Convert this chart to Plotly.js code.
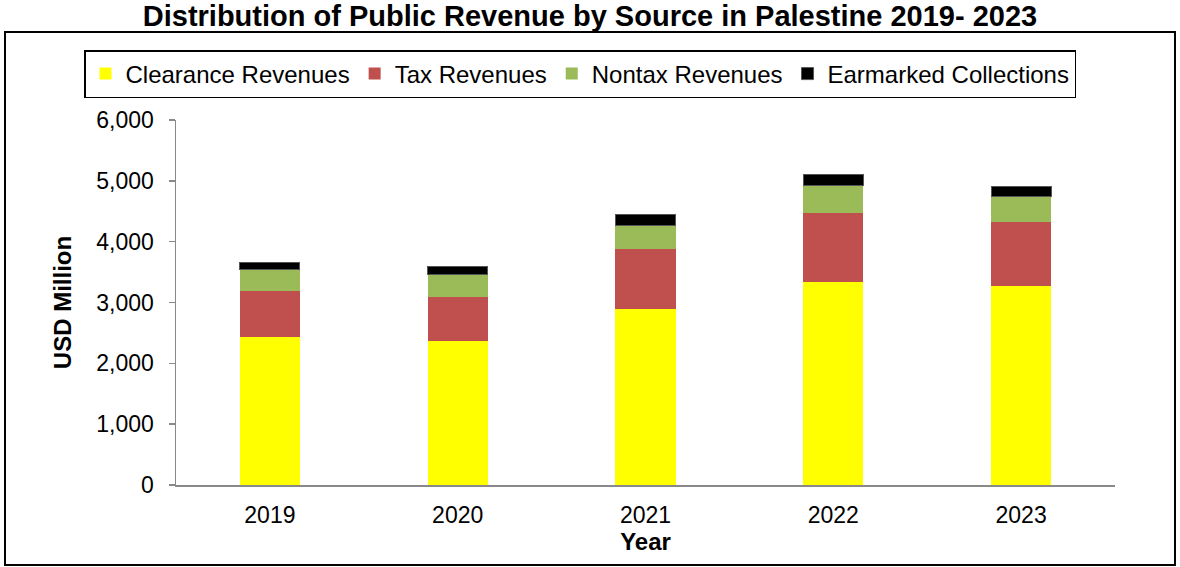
<!DOCTYPE html>
<html>
<head>
<meta charset="utf-8">
<script src="https://cdn.plot.ly/plotly-3.0.1.min.js"></script>
<style>html,body{margin:0;padding:0;background:#fff;}#chart{width:1180px;height:567px;}</style>
</head>
<body>
<div id="chart"></div>
<script>
const years = ["2019", "2020", "2021", "2022", "2023"];
const clearanceRevenues = [2440, 2375, 2895, 3340, 3270];
const taxRevenues = [755, 720, 985, 1135, 1055];
const nontaxRevenues = [340, 370, 390, 445, 415];
const earmarkedCollections = [120, 130, 180, 190, 160];

const seriesNames = ["Clearance Revenues", "Tax Revenues", "Nontax Revenues", "Earmarked Collections"];
const seriesValues = [clearanceRevenues, taxRevenues, nontaxRevenues, earmarkedCollections];
const seriesColors = ["#FFFF00", "#C0504D", "#9BBB59", "#000000"];

const traces = seriesNames.map((name, i) => ({
  type: "bar",
  name: name,
  x: years,
  y: seriesValues[i],
  marker: {color: seriesColors[i], line: {width: i === 3 ? 1 : 0, color: "#555"}},
  hoverinfo: "x+y+name"
}));

const L = 176, R = 65, T = 120, B = 82;
const W = 1180 - L - R, H = 567 - T - B;
const px = v => (v - L) / W;
const py = v => (567 - B - v) / H;

const layout = {
  width: 1180, height: 567,
  margin: {l: L, r: R, t: T, b: B, pad: 0, autoexpand: false},
  paper_bgcolor: "#fff", plot_bgcolor: "#fff",
  barmode: "stack",
  bargap: 0.68,
  font: {family: "Arial, 'Liberation Sans', sans-serif", color: "#000"},
  title: {
    text: "<b>Distribution of Public Revenue by Source in Palestine 2019- 2023</b>",
    font: {size: 29, color: "#000"},
    x: 0.5, xanchor: "center", xref: "container",
    y: 1 - 16 / 567, yanchor: "middle", yref: "container"
  },
  xaxis: {
    type: "category",
    showline: true, linecolor: "#898989", linewidth: 1.5,
    ticks: "", showgrid: false, zeroline: false,
    ticklabelstandoff: 9,
    tickfont: {size: 23, color: "#000"},
    title: {text: "<b>Year</b>", font: {size: 24, color: "#000"}, standoff: 0}
  },
  yaxis: {
    range: [0, 6000], dtick: 1000, tickformat: ",d",
    showline: true, linecolor: "#898989", linewidth: 1.5,
    ticks: "outside", ticklen: 6, tickcolor: "#898989", tickwidth: 1.5,
    showgrid: false, zeroline: false,
    ticklabelstandoff: 10,
    tickfont: {size: 23, color: "#000"},
    title: {text: "<b>USD Million</b>", font: {size: 24, color: "#000"}, standoff: 18}
  },
  legend: {
    orientation: "h",
    x: px(84), xanchor: "left",
    y: py(50), yanchor: "top",
    bordercolor: "#000", borderwidth: 1.5,
    bgcolor: "#fff",
    font: {size: 24, color: "#000"},
    traceorder: "normal",
    itemwidth: 30
  },
  shapes: [{
    type: "rect", xref: "paper", yref: "paper",
    x0: px(5), x1: px(1175), y0: py(565), y1: py(32),
    line: {color: "#000", width: 2}, fillcolor: "rgba(0,0,0,0)", layer: "below"
  }],
  showlegend: true
};

Plotly.newPlot("chart", traces, layout, {displayModeBar: false, staticPlot: true});
</script>
</body>
</html>
